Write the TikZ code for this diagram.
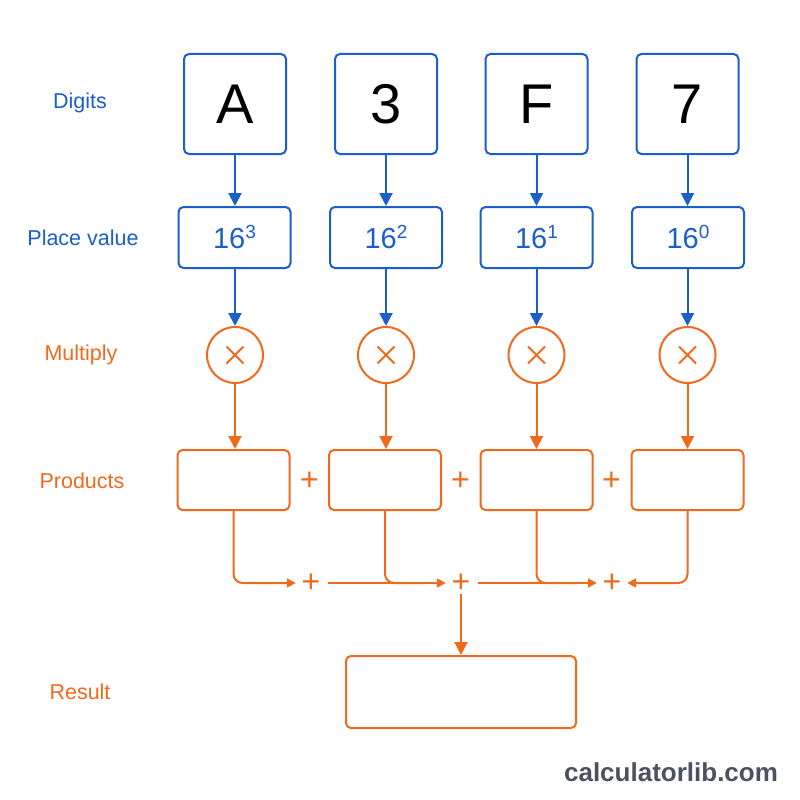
\documentclass[tikz,border=0pt]{standalone}
\usepackage{fontspec}
\setmainfont{Liberation Sans}
\usetikzlibrary{arrows.meta}
\definecolor{bl}{HTML}{1B5FC9}
\definecolor{og}{HTML}{F06A1E}
\definecolor{wm}{HTML}{4A5260}
\begin{document}
\begin{tikzpicture}[x=1pt,y=-1pt,
  digitbox/.style={draw=bl, line width=2pt, rounded corners=5pt, minimum width=102pt, minimum height=100pt, inner sep=0pt, font=\fontsize{56}{60}\selectfont},
  pvbox/.style={draw=bl, line width=2pt, rounded corners=5pt, minimum width=112pt, minimum height=61pt, inner sep=0pt, text=bl, font=\fontsize{29}{32}\selectfont},
  multnode/.style={circle, draw=og, line width=2pt, minimum size=56pt, inner sep=0pt},
  prodbox/.style={draw=og, line width=2pt, rounded corners=5pt, minimum width=112pt, minimum height=60pt, inner sep=0pt},
  plusnode/.style={text=og, font=\fontsize{32}{34}\selectfont, minimum width=30pt, minimum height=30pt, inner sep=0pt},
  rowlabel/.style={font=\fontsize{21.5}{24}\selectfont},
  barrow/.style={draw=bl, line width=2pt, -{Triangle[length=13pt,width=13pt]}},
  oarrow/.style={draw=og, line width=2pt, -{Triangle[length=13pt,width=13pt]}},
  osmall/.style={draw=og, line width=2pt, -{Triangle[length=9pt,width=9pt]}, rounded corners=9pt},
  oline/.style={draw=og, line width=2pt, rounded corners=9pt}
]
\useasboundingbox[fill=white] (0,0) rectangle (800,800);

% row labels
\node[rowlabel, text=bl] (lDigits) at (80,103) {Digits};
\node[rowlabel, text=bl] (lPlace) at (83,238) {Place value};
\node[rowlabel, text=og] (lMult) at (81,355) {Multiply};
\node[rowlabel, text=og] (lProd) at (82,481) {Products};
\node[rowlabel, text=og] (lRes) at (80,692) {Result};

% digits
\node[digitbox] (d1) at (235,104) {A};
\node[digitbox] (d2) at (386,104) {3};
\node[digitbox] (d3) at (536.5,104) {F};
\node[digitbox] (d4) at (687.5,104) {7};

% place values
\newcommand{\pvsup}[1]{16\raisebox{10pt}{\fontsize{19}{20}\selectfont #1}}
\node[pvbox] (v1) at (234.5,237.5) {\pvsup{3}};
\node[pvbox] (v2) at (386,237.5) {\pvsup{2}};
\node[pvbox] (v3) at (536.5,237.5) {\pvsup{1}};
\node[pvbox] (v4) at (688,237.5) {\pvsup{0}};

% multiply circles
\foreach \i/\x in {1/235,2/386,3/536.5,4/687.5}{
  \node[multnode] (m\i) at (\x,355) {};
  \draw[og, line width=2pt] ([shift={(-8.5,-8.5)}]m\i.center) -- ([shift={(8.5,8.5)}]m\i.center)
                               ([shift={(-8.5,8.5)}]m\i.center) -- ([shift={(8.5,-8.5)}]m\i.center);
}

% products
\node[prodbox] (p1) at (233.5,480) {};
\node[prodbox] (p2) at (385,480) {};
\node[prodbox] (p3) at (536.5,480) {};
\node[prodbox] (p4) at (687.5,480) {};
\node[plusnode] (q1) at (309.5,481) {+};
\node[plusnode] (q2) at (460.5,481) {+};
\node[plusnode] (q3) at (611.5,481) {+};

% sums
\node[plusnode] (s1) at (311,583) {+};
\node[plusnode] (s2) at (461,583) {+};
\node[plusnode] (s3) at (612,583) {+};

% result
\node[draw=og, line width=2pt, rounded corners=5pt, minimum width=230pt, minimum height=72pt] (res) at (461,692) {};

% connectors
\foreach \i in {1,2,3,4}{
  \draw[barrow] (d\i.south) -- (d\i.south |- v\i.north);
  \draw[barrow] (m\i.north |- v\i.south) -- (m\i.north);
  \draw[oarrow] (m\i.south) -- (m\i.south |- p\i.north);
}
\draw[osmall] (p1.south) |- (s1.west);
\draw[osmall] ([xshift=2pt]s1.east) -- (s2.west);
\draw[oline] (p2.south) |- ([xshift=-20pt]s2.west);
\draw[osmall] ([xshift=2pt]s2.east) -- (s3.west);
\draw[oline] (p3.south) |- ([xshift=-20pt]s3.west);
\draw[osmall] (p4.south) |- (s3.east);
\draw[oarrow] ([yshift=4pt]s2.south) -- (s2.south |- res.north);

% watermark
\node[font=\fontsize{26}{30}\selectfont\bfseries, text=wm] (wmark) at (671,772) {calculatorlib.com};
\end{tikzpicture}
\end{document}
